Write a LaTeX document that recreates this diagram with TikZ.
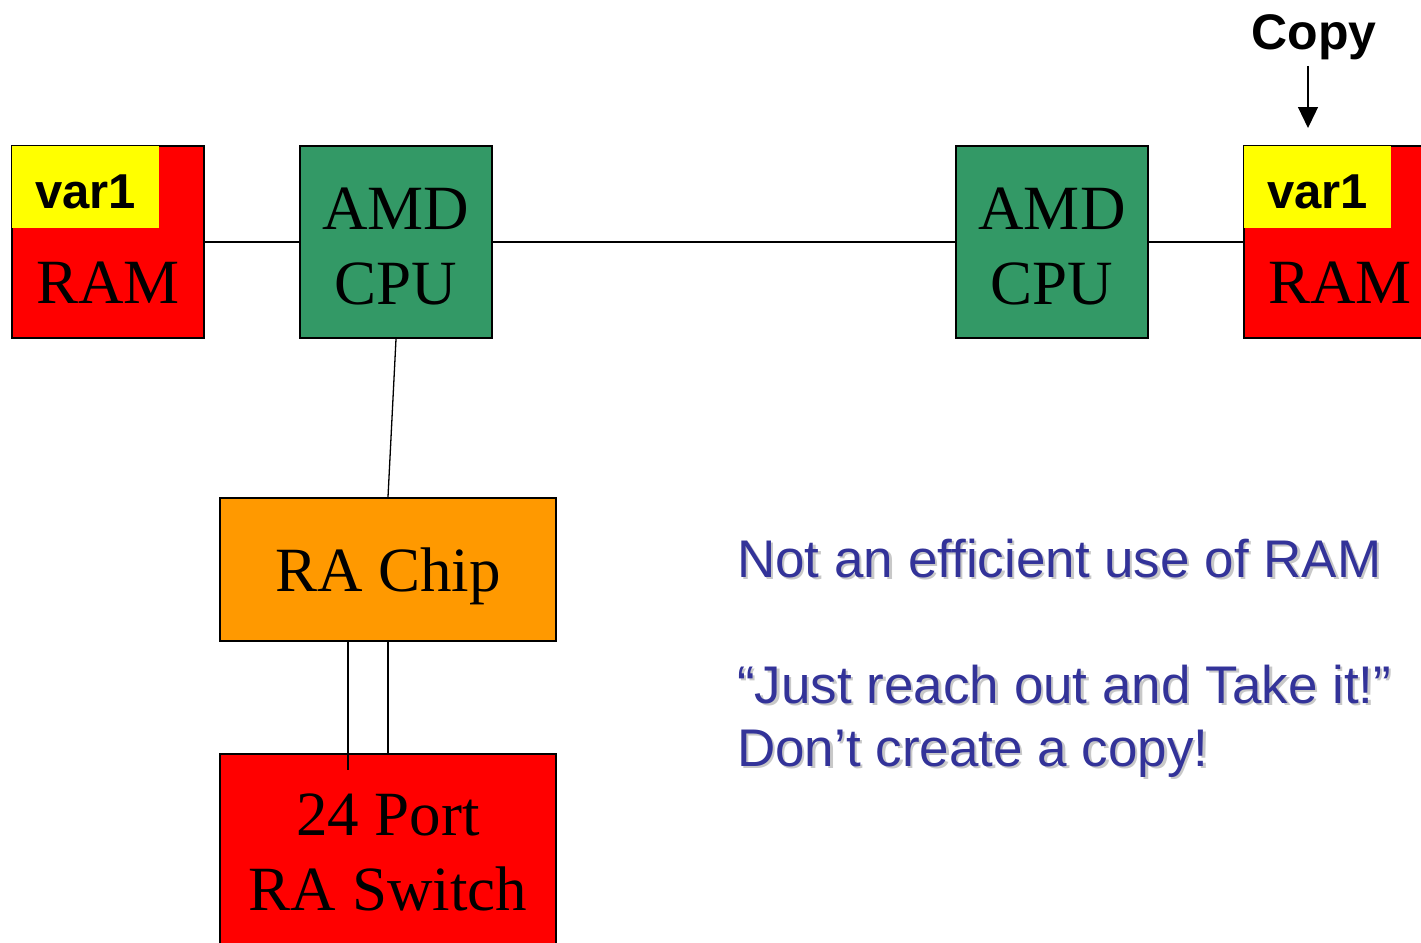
\documentclass[tikz,border=0pt]{standalone}
\usepackage{fontspec}
\setmainfont{Liberation Serif}
\setsansfont{Liberation Sans}
\usepackage{tikz}
\usetikzlibrary{
arrows.meta,
positioning,
calc
}
\usepackage{xcolor}
\definecolor{ramred}{HTML}{FF0000}
\definecolor{varyellow}{HTML}{FFFF00}
\definecolor{cpugreen}{HTML}{339966}
\definecolor{chiporange}{HTML}{FF9900}
\definecolor{noteblue}{HTML}{333399}
\definecolor{shadowgray}{HTML}{C8C8C8}
\newcommand{\shadowed}[1]{\makebox[0pt][l]{\hspace{2.5pt}\raisebox{-2.5pt}{\color{shadowgray}#1}}#1}

\begin{document}
\begin{tikzpicture}[x=1pt, y=-1pt,
    box/.style={draw, line width=2pt, align=center, inner sep=0pt,
        font=\fontsize{63}{75}\selectfont},
    ramblk/.style={box, fill=ramred, minimum width=192, minimum height=192},
    cpublk/.style={box, fill=cpugreen, minimum width=192, minimum height=192},
    varblk/.style={fill=varyellow, inner sep=0pt, minimum width=147, minimum height=82,
        anchor=north west, text height=43pt, text depth=0pt,
        font=\sffamily\bfseries\fontsize{49}{55}\selectfont},
    bigtxt/.style={inner sep=0pt, font=\fontsize{63}{75}\selectfont},
    note/.style={inner sep=0pt, anchor=base west, text=noteblue,
        font=\sffamily\fontsize{53}{63}\selectfont},
    wire/.style={line width=1.3pt}]

    \clip (0,0) rectangle (1421,942);
    \fill[white] (0,0) rectangle (1421,942);

    % ==================== BOXES ====================
    % Left RAM with its var1
    \node [ramblk] (ram1) at (108,242) {};
    \node [varblk] (var1a) at ([xshift=1pt, yshift=-1pt]ram1.north west) {var1};
    \node [bigtxt] (ramlbl1) at ([yshift=-41pt]ram1.center) {RAM};

    % The two CPUs
    \node [cpublk] (cpu1) at (396,242) {};
    \node [bigtxt, align=center] (cpulbl1) at ([yshift=-5pt]cpu1.center) {AMD\\CPU};
    \node [cpublk] (cpu2) at (1052,242) {};
    \node [bigtxt, align=center] (cpulbl2) at ([yshift=-5pt]cpu2.center) {AMD\\CPU};

    % Right RAM (the copy), runs off the edge
    \node [ramblk] (ram2) at (1340,242) {};
    \node [varblk] (var1b) at ([xshift=1pt, yshift=-1pt]ram2.north west) {var1};
    \node [bigtxt] (ramlbl2) at ([yshift=-41pt]ram2.center) {RAM};

    % RA chip and the switch below it
    \node [box, fill=chiporange, minimum width=336, minimum height=143, text depth=0pt]
        (chip) at (388,569.5) {RA Chip};
    \node [box, fill=ramred, minimum width=336, minimum height=196]
        (switch) at (388,852) {24 Port\\RA Switch};

    % ==================== CONNECTIONS ====================
    \draw [wire] (ram1) -- (cpu1);
    \draw [wire] (cpu1) -- (cpu2);
    \draw [wire] (cpu2) -- (ram2);
    \draw [wire] (cpu1.south) -- (chip.north);
    \draw [wire] ([xshift=-40pt]chip.south) -- ([xshift=-40pt, yshift=-17pt]switch.north);
    \draw [wire] (chip.south) -- (switch.north);

    % ==================== COPY MARKER ====================
    \node [inner sep=0pt, anchor=base, font=\sffamily\bfseries\fontsize{50}{56}\selectfont]
        (copy) at (1314,49) {Copy};
    \coordinate (copytip) at (1308,128);
    \draw [wire, -{Triangle[width=20pt, length=21pt]}] (copytip |- 0,66) -- (copytip);

    % ==================== NOTES ====================
    \node [note] (note1) at (737,577) {\shadowed{Not an efficient use of RAM}};
    \node [note] (note2) at (737,703) {\shadowed{“Just reach out and Take it!”}};
    \node [note] (note3) at (737,766) {\shadowed{Don’t create a copy!}};

\end{tikzpicture}
\end{document}
